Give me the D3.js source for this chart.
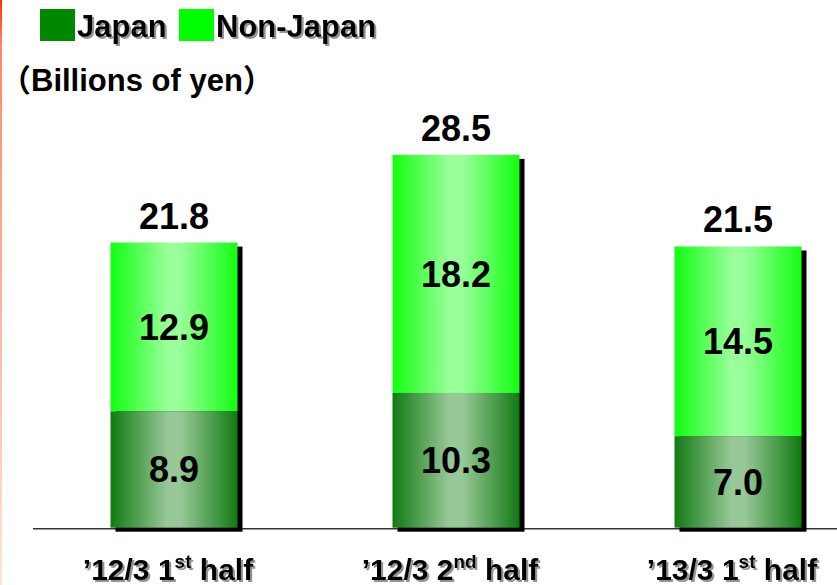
<!DOCTYPE html>
<html><head><meta charset="utf-8">
<script src="https://cdn.jsdelivr.net/npm/d3@7"></script>
<style>
html,body{margin:0;padding:0;background:#fff;}
svg{display:block;}
</style></head>
<body>
<svg id="c" width="837" height="585"></svg>
<script>
const categories = ["’12/3 1", "’12/3 2", "’13/3 1"];
const catSup = ["st", "nd", "st"];
const catTail = [" half", " half", " half"];
const japan = [8.9, 10.3, 7.0];
const nonJapan = [12.9, 18.2, 14.5];
const totals = [21.8, 28.5, 21.5];
const seriesNames = ["Japan", "Non-Japan"];
const unitLabel = "Billions of yen";

const svg = d3.select("#c");
const defs = svg.append("defs");

function hgrad(id, edge, mid){
  const g = defs.append("linearGradient").attr("id", id).attr("x1","0").attr("x2","1").attr("y1","0").attr("y2","0");
  g.append("stop").attr("offset","0%").attr("stop-color", edge);
  g.append("stop").attr("offset","45%").attr("stop-color", mid);
  g.append("stop").attr("offset","55%").attr("stop-color", mid);
  g.append("stop").attr("offset","100%").attr("stop-color", edge);
}
hgrad("gJ", "#127a12", "#98c898");
hgrad("gN", "#11ff11", "#99ff99");
const eg = defs.append("linearGradient").attr("id","gE").attr("x1","0").attr("x2","0").attr("y1","0").attr("y2","1");
eg.append("stop").attr("offset","0%").attr("stop-color","#ff3300");
eg.append("stop").attr("offset","8%").attr("stop-color","#ff8866");
eg.append("stop").attr("offset","100%").attr("stop-color","#ffe4dc");
const sh = defs.append("filter").attr("id","ts").attr("x","-10%").attr("y","-20%").attr("width","130%").attr("height","150%");
sh.append("feDropShadow").attr("dx",2).attr("dy",2).attr("stdDeviation",0.6).attr("flood-color","#888").attr("flood-opacity",0.9);

// left edge strip
svg.append("rect").attr("x",0).attr("y",0).attr("width",2).attr("height",585).attr("fill","url(#gE)");

const baseY = 527.7;
const y = d3.scaleLinear().domain([0, 30]).range([baseY, baseY - 30*13.08]);
const x = d3.scalePoint().domain(categories).range([174, 738]);
const bw = 127;

// axis line
svg.append("line").attr("x1",33).attr("x2",837).attr("y1",528.5).attr("y2",528.5).attr("stroke","#333").attr("stroke-width",1);
svg.append("line").attr("x1",33).attr("x2",837).attr("y1",529.5).attr("y2",529.5).attr("stroke","#999").attr("stroke-width",1);

const data = categories.map((c,i)=>({c, j:japan[i], n:nonJapan[i], t:totals[i], i}));

// shadows
svg.selectAll("rect.sh").data(data).join("rect").attr("class","sh")
  .attr("x", d=>x(d.c)-bw/2+5).attr("y", d=>y(d.j+d.n)+4)
  .attr("width", bw).attr("height", d=>baseY - y(d.j+d.n)).attr("fill","#000");

svg.selectAll("rect.j").data(data).join("rect").attr("class","j")
  .attr("x", d=>x(d.c)-bw/2).attr("y", d=>y(d.j))
  .attr("width", bw).attr("height", d=>baseY - y(d.j)).attr("fill","url(#gJ)");
svg.selectAll("rect.n").data(data).join("rect").attr("class","n")
  .attr("x", d=>x(d.c)-bw/2).attr("y", d=>y(d.j+d.n))
  .attr("width", bw).attr("height", d=>y(d.j) - y(d.j+d.n)).attr("fill","url(#gN)");

const vf = "Arial, 'Liberation Sans', sans-serif";
const vs = 36;
svg.selectAll("text.vj").data(data).join("text").attr("class","vj")
  .attr("x", d=>x(d.c)).attr("y", d=>(y(d.j)+baseY)/2 + 13)
  .attr("text-anchor","middle").attr("font-family",vf).attr("font-weight","bold").attr("font-size",vs).attr("fill","#000")
  .text(d=>d.j.toFixed(1));
svg.selectAll("text.vn").data(data).join("text").attr("class","vn")
  .attr("x", d=>x(d.c)).attr("y", d=>(y(d.j)+y(d.j+d.n))/2 + 13)
  .attr("text-anchor","middle").attr("font-family",vf).attr("font-weight","bold").attr("font-size",vs).attr("fill","#000")
  .text(d=>d.n.toFixed(1));
svg.selectAll("text.vt").data(data).join("text").attr("class","vt")
  .attr("x", d=>x(d.c)).attr("y", d=>y(d.t) - 14)
  .attr("text-anchor","middle").attr("font-family",vf).attr("font-weight","bold").attr("font-size",vs).attr("fill","#000")
  .text(d=>d.t.toFixed(1));

// category labels
const cf = "'Liberation Sans', Arial, sans-serif";
data.forEach(d=>{
  const t = svg.append("text").attr("x", x(d.c)-6).attr("y", 580).attr("text-anchor","middle")
    .attr("font-family", cf).attr("font-weight","bold").attr("font-size",30).attr("fill","#000")
    .attr("filter","url(#ts)");
  t.append("tspan").text(categories[d.i]);
  t.append("tspan").attr("dy",-12).attr("font-size",19).text(catSup[d.i]);
  t.append("tspan").attr("dy",12).text(catTail[d.i]);
});

// legend
const lg = svg.append("g");
const lf = "Arial, 'Liberation Sans', sans-serif";
const colors = ["#008800", "#00ff00"];
const lx = [40, 179];
seriesNames.forEach((s,i)=>{
  lg.append("rect").attr("x", lx[i]).attr("y", 9).attr("width",35).attr("height",32).attr("fill",colors[i]);
  lg.append("text").attr("x", lx[i]+37).attr("y", 37).attr("font-family",lf).attr("font-weight","bold").attr("font-size",31).attr("fill","#000")
    .attr("filter","url(#ts)").text(s);
});
const ut = svg.append("text").attr("x", 0).attr("y", 91).attr("font-weight","bold").attr("font-size",31).attr("fill","#000");
ut.append("tspan").attr("font-family","'Noto Sans CJK JP', sans-serif").text("（");
ut.append("tspan").attr("font-family",lf).text(unitLabel);
ut.append("tspan").attr("font-family","'Noto Sans CJK JP', sans-serif").text("）");
</script>
</body></html>
